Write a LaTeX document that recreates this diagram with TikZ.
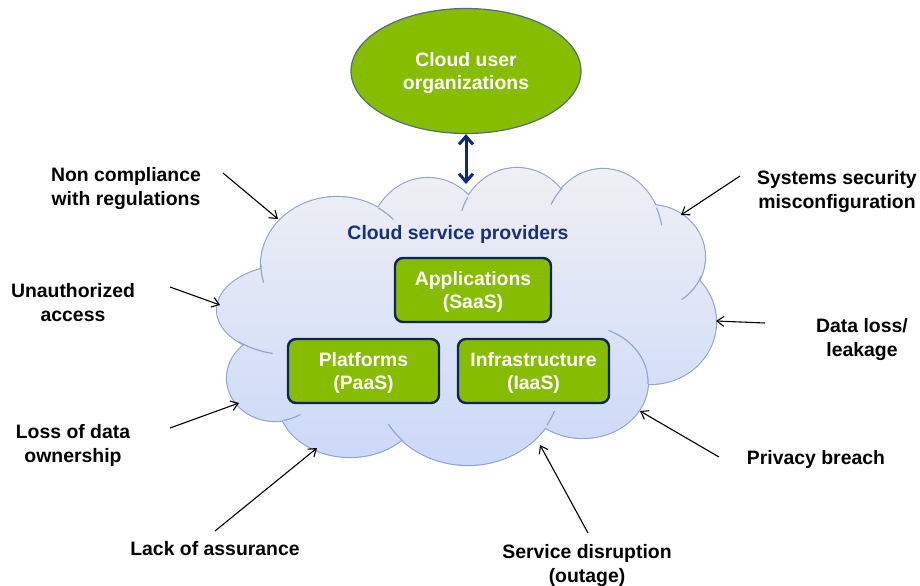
\documentclass[tikz,border=0pt]{standalone}
\usepackage{fontspec}
\setmainfont{Liberation Sans}
\usetikzlibrary{arrows.meta,shapes.geometric}
\definecolor{cgreen}{RGB}{134,189,0}
\definecolor{cborder}{RGB}{15,36,90}
\definecolor{cnavy}{RGB}{23,50,120}
\definecolor{carrow}{RGB}{15,40,120}
\definecolor{cell}{RGB}{85,110,120}
\definecolor{cline}{RGB}{143,163,206}
\definecolor{ctop}{RGB}{239,240,244}
\definecolor{cbot}{RGB}{203,216,248}
\newcommand{\cldcrease}[6]{\draw[crease] (#1,#2) ++(#5:#3 and #4) arc[start angle=#5,end angle=#6,x radius=#3,y radius=#4];}
\begin{document}
\begin{tikzpicture}[x=1pt,y=1pt,xscale=0.5,yscale=-0.5,
  lbl/.style={font=\fontsize{9.7}{12}\selectfont\bfseries, align=center, text=black, inner sep=0pt},
  svcbox/.style={draw=cborder, line width=1.2pt, fill=cgreen, rounded corners=4pt, minimum height=32pt, inner sep=0pt, font=\fontsize{9.7}{11.5}\selectfont\bfseries, text=white, align=center, text depth=-1pt},
  threat/.style={draw=black, line width=0.55pt, -{Straight Barb[length=3.5pt,width=5pt]}},
  dbl/.style={draw=carrow, line width=1.5pt, {Straight Barb[length=4pt,width=7pt]}-{Straight Barb[length=4pt,width=7pt]}},
  crease/.style={draw=cline, line width=0.55pt}
]
\useasboundingbox (0,0) rectangle (920,585);
% cloud outline
\path[draw=cline, line width=1.1pt]
 (337,265) ellipse [x radius=76, y radius=68]
 (428,245) ellipse [x radius=60, y radius=67]
 (517,230) ellipse [x radius=58, y radius=62]
 (603,240) ellipse [x radius=60, y radius=71]
 (650,257) ellipse [x radius=55, y radius=52]
 (650,322) ellipse [x radius=66, y radius=62]
 (583,382) ellipse [x radius=65, y radius=56]
 (468,383) ellipse [x radius=92, y radius=82]
 (350,400) ellipse [x radius=72, y radius=57]
 (275,378) ellipse [x radius=48, y radius=43]
 (292,310) ellipse [x radius=75, y radius=45];
\shade[top color=ctop, bottom color=cbot]
 (337,265) ellipse [x radius=76, y radius=68]
 (428,245) ellipse [x radius=60, y radius=67]
 (517,230) ellipse [x radius=58, y radius=62]
 (603,240) ellipse [x radius=60, y radius=71]
 (650,257) ellipse [x radius=55, y radius=52]
 (650,322) ellipse [x radius=66, y radius=62]
 (583,382) ellipse [x radius=65, y radius=56]
 (468,383) ellipse [x radius=92, y radius=82]
 (350,400) ellipse [x radius=72, y radius=57]
 (275,378) ellipse [x radius=48, y radius=43]
 (292,310) ellipse [x radius=75, y radius=45]
 (465,320) ellipse [x radius=200, y radius=100];
% creases
\cldcrease{337}{265}{76}{68}{180}{165}
\cldcrease{337}{265}{76}{68}{303}{318}
\cldcrease{517}{230}{58}{62}{212}{198}
\cldcrease{603}{240}{60}{71}{227}{210}
\cldcrease{603}{240}{60}{71}{333}{348}
\cldcrease{650}{257}{55}{52}{22}{55}
\cldcrease{583}{382}{65}{56}{293}{362}
\cldcrease{468}{383}{92}{82}{31}{20}
\cldcrease{468}{383}{92}{82}{135}{150}
\cldcrease{275}{378}{48}{43}{80}{58}
\cldcrease{292}{310}{75}{45}{135}{105}
% top ellipse
\node[ellipse, draw=cell, line width=0.6pt, fill=cgreen, minimum width=115pt, minimum height=62.5pt, inner sep=0pt, font=\fontsize{9.7}{11.5}\selectfont\bfseries, text=white, align=center, text depth=-1.2pt] (user) at (466,71) {Cloud user\\organizations};
\coordinate (cloudtop) at (466,184);
\draw[dbl] (user.south) -- (cloudtop);
% cloud contents
\node[font=\fontsize{9.7}{12}\selectfont\bfseries, text=cnavy, inner sep=0pt] (csp) at (458,234) {Cloud service providers};
\node[svcbox, minimum width=78pt] (saas) at (473,290) {Applications\\(SaaS)};
\node[svcbox, minimum width=75.5pt] (paas) at (363.5,371) {Platforms\\(PaaS)};
\node[svcbox, minimum width=75.5pt] (iaas) at (533.5,371) {Infrastructure\\(IaaS)};
% threats
\node[lbl] (nc) at (126,189) {Non compliance\\with regulations};
\node[lbl] (ua) at (73,303) {Unauthorized\\access};
\node[lbl] (ld) at (73,445) {Loss of data\\ownership};
\node[lbl] (la) at (215,549) {Lack of assurance};
\node[lbl] (sd) at (587,566) {Service disruption\\(outage)};
\node[lbl] (pb) at (816,459) {Privacy breach};
\node[lbl] (dl) at (862,340) {Data loss/\\leakage};
\node[lbl] (ss) at (837,192) {Systems security\\misconfiguration};
\coordinate (nc1) at (223,173); \coordinate (nc2) at (278,219);
\coordinate (ua1) at (170,287); \coordinate (ua2) at (220,305);
\coordinate (ld1) at (170,428); \coordinate (ld2) at (239,403);
\coordinate (la1) at (215,531); \coordinate (la2) at (317,448);
\coordinate (sd1) at (588,533); \coordinate (sd2) at (540,445);
\coordinate (pb1) at (719,457); \coordinate (pb2) at (640,411);
\coordinate (dl1) at (765,323); \coordinate (dl2) at (716,321);
\coordinate (ss1) at (740,176); \coordinate (ss2) at (681,215);
\draw[threat] (nc1) -- (nc2);
\draw[threat] (ua1) -- (ua2);
\draw[threat] (ld1) -- (ld2);
\draw[threat] (la1) -- (la2);
\draw[threat] (sd1) -- (sd2);
\draw[threat] (pb1) -- (pb2);
\draw[threat] (dl1) -- (dl2);
\draw[threat] (ss1) -- (ss2);
\end{tikzpicture}
\end{document}
